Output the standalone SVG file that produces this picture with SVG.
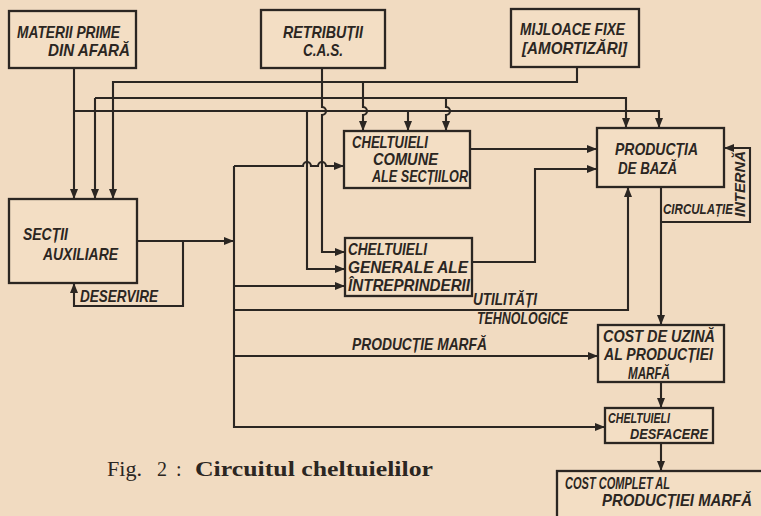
<svg xmlns="http://www.w3.org/2000/svg" width="761" height="516" viewBox="0 0 761 516">
<style>
.bx{fill:#f3dec4;stroke:#2b2622;stroke-width:2.3}
.ln{fill:none;stroke:#2b2622;stroke-width:2.1}
.t{font-family:"Liberation Sans",Arial,sans-serif;font-weight:bold;font-style:italic;font-size:16.5px;fill:#2b2622}
.s{font-size:14.5px}
.cap{font-family:"Liberation Serif","Times New Roman",serif;font-size:20px;fill:#2b2622}
</style>
<defs>
<marker id="ah" markerUnits="userSpaceOnUse" markerWidth="10" markerHeight="8" refX="9" refY="4" orient="auto">
<path d="M0,0 L10,4 L0,8 Z" fill="#2b2622"/>
</marker>
</defs>
<rect x="0" y="0" width="761" height="516" fill="#f1dbc1"/>

<g id="connectors">
<path class="ln" d="M74,68 V198" marker-end="url(#ah)"/>
<path class="ln" d="M74,111 H659 V127" marker-end="url(#ah)"/>
<path class="ln" d="M408,111 V130" marker-end="url(#ah)"/>
<path class="ln" d="M307,111 V269 H344" marker-end="url(#ah)"/>
<path class="ln" d="M322,68 V107 A4,4 0 0 1 322,115 V252 H344" marker-end="url(#ah)"/>
<path class="ln" d="M95,98 H626 V127" marker-end="url(#ah)"/>
<path class="ln" d="M95,98 V198" marker-end="url(#ah)"/>
<path class="ln" d="M446,98 V107 A4,4 0 0 1 446,115 V130" marker-end="url(#ah)"/>
<path class="ln" d="M577,67 V82 H113 V198" marker-end="url(#ah)"/>
<path class="ln" d="M363,82 V107 A4,4 0 0 1 363,115 V130" marker-end="url(#ah)"/>
<path class="ln" d="M234,166 V427 H604" marker-end="url(#ah)"/>
<path class="ln" d="M234,166 H303 A4,4 0 0 1 311,166 H318 A4,4 0 0 1 326,166 H343" marker-end="url(#ah)"/>
<path class="ln" d="M137,241 H233" marker-end="url(#ah)"/>
<path class="ln" d="M183,241 V306 H74 V284" marker-end="url(#ah)"/>
<path class="ln" d="M234,286 H344" marker-end="url(#ah)"/>
<path class="ln" d="M234,310 H628 V188" marker-end="url(#ah)"/>
<path class="ln" d="M234,356 H597" marker-end="url(#ah)"/>
<path class="ln" d="M470,149 H596" marker-end="url(#ah)"/>
<path class="ln" d="M472,262 H535 V169 H596" marker-end="url(#ah)"/>
<path class="ln" d="M661,187 V324" marker-end="url(#ah)"/>
<path class="ln" d="M661,222 H750 V148 H725" marker-end="url(#ah)"/>
<path class="ln" d="M661,382 V407" marker-end="url(#ah)"/>
<path class="ln" d="M661,443 V470" marker-end="url(#ah)"/>
</g>

<g id="labels">
<text class="t" x="80" y="302" textLength="78" lengthAdjust="spacingAndGlyphs">DESERVIRE</text>
<text class="t" x="473" y="305" textLength="64" lengthAdjust="spacingAndGlyphs">UTILITĂȚI</text>
<text class="t" x="477" y="324" textLength="91" lengthAdjust="spacingAndGlyphs">TEHNOLOGICE</text>
<text class="t" x="352" y="350" textLength="135" lengthAdjust="spacingAndGlyphs">PRODUCȚIE MARFĂ</text>
<text class="t s" x="663" y="214" textLength="70" lengthAdjust="spacingAndGlyphs">CIRCULAȚIE</text>
<text class="t s" transform="translate(745,184) rotate(-90)" text-anchor="middle" textLength="66" lengthAdjust="spacingAndGlyphs">INTERNĂ</text>
</g>

<g id="materii">
<rect class="bx" x="9" y="11" width="127" height="57"/>
<text class="t" x="17" y="38" textLength="103" lengthAdjust="spacingAndGlyphs">MATERII PRIME</text>
<text class="t" x="48" y="56" textLength="82" lengthAdjust="spacingAndGlyphs">DIN AFARĂ</text>
</g>
<g id="retributii">
<rect class="bx" x="261" y="10" width="124" height="58"/>
<text class="t" x="283" y="38" textLength="80" lengthAdjust="spacingAndGlyphs">RETRIBUȚII</text>
<text class="t" x="303" y="56" textLength="40" lengthAdjust="spacingAndGlyphs">C.A.S.</text>
</g>
<g id="mijloace">
<rect class="bx" x="511" y="9" width="128" height="58"/>
<text class="t" x="520" y="35" textLength="105" lengthAdjust="spacingAndGlyphs">MIJLOACE FIXE</text>
<text class="t" x="522" y="54" textLength="105" lengthAdjust="spacingAndGlyphs">[AMORTIZĂRI]</text>
</g>
<g id="sectii">
<rect class="bx" x="9" y="199" width="128" height="84"/>
<text class="t" x="23" y="240" textLength="45" lengthAdjust="spacingAndGlyphs">SECȚII</text>
<text class="t" x="43" y="260" textLength="75" lengthAdjust="spacingAndGlyphs">AUXILIARE</text>
</g>
<g id="comune">
<rect class="bx" x="344" y="131" width="126" height="57"/>
<text class="t" x="352" y="148" textLength="76" lengthAdjust="spacingAndGlyphs">CHELTUIELI</text>
<text class="t" x="373" y="165" textLength="65" lengthAdjust="spacingAndGlyphs">COMUNE</text>
<text class="t" x="372" y="182" textLength="96" lengthAdjust="spacingAndGlyphs">ALE SECȚIILOR</text>
</g>
<g id="productia">
<rect class="bx" x="597" y="128" width="127" height="59"/>
<text class="t" x="615" y="155" textLength="83" lengthAdjust="spacingAndGlyphs">PRODUCȚIA</text>
<text class="t" x="618" y="174" textLength="59" lengthAdjust="spacingAndGlyphs">DE BAZĂ</text>
</g>
<g id="generale">
<rect class="bx" x="345" y="238" width="127" height="58"/>
<text class="t" x="348" y="255" textLength="79" lengthAdjust="spacingAndGlyphs">CHELTUIELI</text>
<text class="t" x="348" y="273" textLength="120" lengthAdjust="spacingAndGlyphs">GENERALE ALE</text>
<text class="t" x="348" y="291" textLength="122" lengthAdjust="spacingAndGlyphs">ÎNTREPRINDERII</text>
</g>
<g id="uzina">
<rect class="bx" x="598" y="325" width="126" height="57"/>
<text class="t" x="603" y="342" textLength="112" lengthAdjust="spacingAndGlyphs">COST DE UZINĂ</text>
<text class="t" x="604" y="360" textLength="109" lengthAdjust="spacingAndGlyphs">AL PRODUCȚIEI</text>
<text class="t" x="628" y="379" textLength="42" lengthAdjust="spacingAndGlyphs">MARFĂ</text>
</g>
<g id="desfacere">
<rect class="bx" x="605" y="408" width="108" height="35"/>
<text class="t s" x="608" y="423" textLength="62" lengthAdjust="spacingAndGlyphs">CHELTUIELI</text>
<text class="t s" x="630" y="439" textLength="78" lengthAdjust="spacingAndGlyphs">DESFACERE</text>
</g>
<g id="complet">
<rect class="bx" x="557" y="471" width="225" height="60"/>
<text class="t" x="565" y="489" textLength="105" lengthAdjust="spacingAndGlyphs">COST COMPLET AL</text>
<text class="t" x="602" y="506" textLength="150" lengthAdjust="spacingAndGlyphs">PRODUCȚIEI MARFĂ</text>
</g>

<g id="caption">
<text class="cap" x="107" y="476" textLength="35" lengthAdjust="spacingAndGlyphs">Fig.</text>
<text class="cap" x="157" y="476">2</text>
<text class="cap" x="176" y="476">:</text>
<text class="cap" x="195" y="476" font-weight="bold" textLength="238" lengthAdjust="spacingAndGlyphs">Circuitul cheltuielilor</text>
</g>
</svg>
